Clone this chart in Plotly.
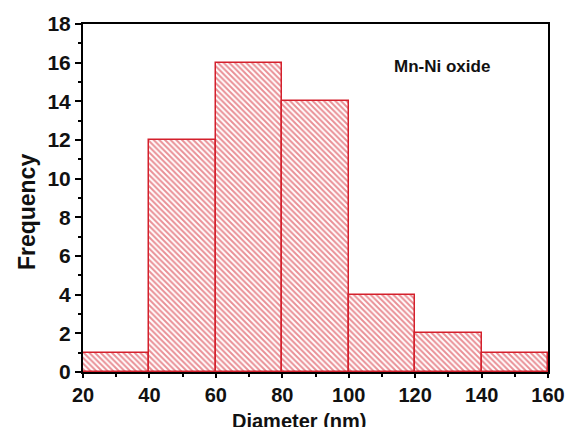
import plotly.graph_objects as go

bin_centers = [30, 50, 70, 90, 110, 130, 150]
frequency = [1, 12, 16, 14, 4, 2, 1]
x_ticks = [20, 40, 60, 80, 100, 120, 140, 160]
y_ticks = [0, 2, 4, 6, 8, 10, 12, 14, 16, 18]
x_minor = [30, 50, 70, 90, 110, 130, 150]
y_minor = [1, 3, 5, 7, 9, 11, 13, 15, 17]

red = "#d4202c"
fam = "Arial, Liberation Sans, sans-serif"

fig = go.Figure()
fig.add_trace(go.Bar(
    x=bin_centers, y=frequency, width=20,
    marker=dict(color="white", line=dict(color=red, width=1.5),
                pattern=dict(shape="\\", fgcolor=red, bgcolor="white", size=4, solidity=0.5)),
    showlegend=False,
))

fig.update_layout(
    width=570, height=427,
    margin=dict(l=83, r=22, t=24, b=55, autoexpand=False),
    paper_bgcolor="white", plot_bgcolor="white",
    bargap=0,
    font=dict(family=fam, color="#111", size=19),
)
fig.update_xaxes(
    range=[20, 160], tickvals=x_ticks, ticktext=["<b>%d</b>" % v for v in x_ticks],
    ticks="outside", ticklen=4, tickwidth=2, tickcolor="black",
    showline=True, linecolor="black", linewidth=2, mirror=True, showgrid=False, zeroline=False,
    automargin=False,
    tickfont=dict(size=20, family=fam, color="#111"),
    minor=dict(tickvals=x_minor, ticks="outside", ticklen=3, tickwidth=2, tickcolor="black"),
)
fig.update_yaxes(
    range=[0, 18], tickvals=y_ticks, ticktext=["<b>%d</b>" % v for v in y_ticks],
    ticks="outside", ticklen=6, tickwidth=2, tickcolor="black",
    showline=True, linecolor="black", linewidth=2, mirror=True, showgrid=False, zeroline=False,
    automargin=False,
    tickfont=dict(size=21, family=fam, color="#111"),
    minor=dict(tickvals=y_minor, ticks="outside", ticklen=3, tickwidth=2, tickcolor="black"),
)
fig.add_annotation(x=0.4645, y=-0.14, xref="paper", yref="paper", text="<b>Diameter (nm)</b>",
                   xanchor="center", yanchor="middle",
                   showarrow=False, font=dict(size=20, color="#111", family=fam))
fig.add_annotation(x=-0.12, y=0.46, xref="paper", yref="paper", text="<b>Frequency</b>",
                   xanchor="center", yanchor="middle",
                   textangle=-90, showarrow=False, font=dict(size=23, color="#111", family=fam))
fig.add_annotation(x=128, y=15.8, xref="x", yref="y", text="<b>Mn-Ni oxide</b>",
                   xanchor="center", yanchor="middle",
                   showarrow=False, font=dict(size=17, color="#111", family=fam))
fig.write_html("out.html", config={"displayModeBar": False},
               post_script="document.body.style.margin='0';document.body.style.overflow='hidden';")
